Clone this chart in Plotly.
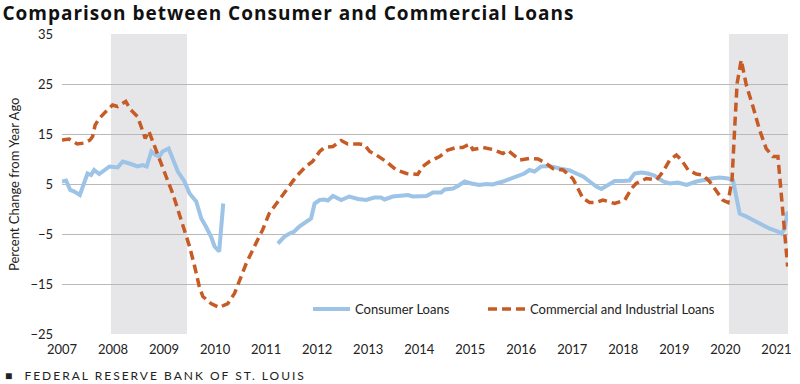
import plotly.graph_objects as go

# ---- data ----
ci_x = [2007.00, 2007.14, 2007.30, 2007.44, 2007.55, 2007.60, 2007.65, 2007.73, 2007.86, 2007.99,
        2008.09, 2008.25, 2008.35, 2008.48, 2008.55, 2008.63, 2008.70, 2008.81, 2008.91, 2009.04,
        2009.17, 2009.24, 2009.37, 2009.50, 2009.60, 2009.69, 2009.76, 2009.92, 2010.08, 2010.25,
        2010.38, 2010.48, 2010.61, 2010.77, 2010.93, 2011.06, 2011.26, 2011.46, 2011.59, 2011.78,
        2011.91, 2012.05, 2012.14, 2012.31, 2012.47, 2012.60, 2012.83, 2012.93, 2013.03, 2013.16,
        2013.35, 2013.55, 2013.75, 2013.97, 2014.07, 2014.20, 2014.40, 2014.56, 2014.73, 2014.85,
        2014.99, 2015.05, 2015.25, 2015.44, 2015.64, 2015.74, 2015.97, 2016.16, 2016.33, 2016.49,
        2016.62, 2016.82, 2017.01, 2017.11, 2017.21, 2017.34, 2017.47, 2017.60, 2017.83, 2018.03,
        2018.16, 2018.25, 2018.45, 2018.65, 2018.78, 2018.91, 2019.04, 2019.14, 2019.27, 2019.43,
        2019.56, 2019.69, 2019.82, 2019.95, 2020.05, 2020.13, 2020.18, 2020.23, 2020.31, 2020.41,
        2020.54, 2020.67, 2020.80, 2020.93, 2021.03, 2021.10, 2021.16, 2021.22]
ci_y = [13.8, 14.0, 13.0, 13.2, 13.8, 14.5, 16.8, 18.1, 19.5, 20.8,
        20.5, 21.5, 19.8, 18.5, 16.5, 14.1, 15.6, 12.8, 9.8, 6.5,
        3.1, 0.8, -3.5, -7.5, -11.5, -15.5, -17.5, -18.9, -19.7, -18.9,
        -16.9, -14.2, -10.9, -7.5, -4.2, -0.9, 1.8, 4.5, 6.5, 8.5,
        9.5, 11.5, 12.3, 12.5, 13.7, 13.0, 13.0, 12.8, 11.5, 10.8,
        9.5, 7.8, 7.1, 6.9, 8.5, 9.5, 10.5, 11.8, 12.3, 12.3,
        13.0, 11.9, 12.3, 11.9, 11.1, 11.7, 9.8, 10.1, 10.0, 9.1,
        8.1, 7.8, 6.1, 4.1, 2.1, 1.3, 1.3, 1.8, 1.1, 1.8,
        4.1, 5.1, 6.1, 5.8, 7.5, 9.8, 10.8, 9.8, 7.8, 7.0,
        6.8, 5.5, 3.5, 1.8, 1.3, 5.8, 15.8, 25.1, 29.8, 24.8,
        20.5, 15.8, 12.1, 10.5, 10.5, 2.5, -4.9, -11.5]

cons_x = [2007.00, 2007.08, 2007.16, 2007.24, 2007.35, 2007.44, 2007.50, 2007.57, 2007.63, 2007.73,
          2007.83, 2007.93, 2008.09, 2008.19, 2008.32, 2008.48, 2008.58, 2008.66, 2008.75, 2008.83,
          2008.91, 2008.97, 2009.09, 2009.17, 2009.27, 2009.40, 2009.50, 2009.63, 2009.73, 2009.82,
          2009.92, 2009.99, 2010.08, 2010.16, 2010.70,
          2011.23, 2011.36, 2011.46, 2011.55, 2011.65, 2011.78, 2011.88, 2011.95, 2012.05, 2012.14,
          2012.21, 2012.31, 2012.47, 2012.63, 2012.80, 2012.96, 2013.12, 2013.25, 2013.32, 2013.48,
          2013.68, 2013.78, 2013.87, 2014.14, 2014.27, 2014.43, 2014.50, 2014.66, 2014.76, 2014.89,
          2015.02, 2015.18, 2015.31, 2015.44, 2015.64, 2015.77, 2015.93, 2016.06, 2016.16, 2016.26,
          2016.39, 2016.55, 2016.75, 2016.95, 2017.08, 2017.21, 2017.34, 2017.47, 2017.57, 2017.70,
          2017.83, 2017.99, 2018.12, 2018.22, 2018.35, 2018.48, 2018.61, 2018.78, 2018.91, 2019.07,
          2019.24, 2019.43, 2019.59, 2019.73, 2019.89, 2020.05, 2020.15, 2020.22, 2020.28, 2020.41,
          2020.54, 2020.67, 2020.86, 2021.03, 2021.10, 2021.16, 2021.22]
cons_y = [5.5, 5.7, 3.8, 3.5, 2.8, 5.1, 7.1, 6.8, 7.8, 7.0,
          7.8, 8.5, 8.3, 9.5, 9.1, 8.5, 8.8, 8.5, 11.5, 10.8,
          10.5, 11.5, 12.1, 9.8, 7.5, 5.5, 3.1, 1.5, -1.9, -3.5,
          -5.5, -7.5, -8.5, 1.1, None,
          -6.9, -5.5, -4.9, -4.5, -3.5, -2.5, -1.9, 1.1, 1.8, 1.9,
          1.7, 2.6, 1.8, 2.5, 2.0, 1.8, 2.3, 2.3, 1.9, 2.5,
          2.6, 2.8, 2.5, 2.6, 3.3, 3.3, 3.9, 4.1, 4.6, 5.5,
          5.1, 4.8, 5.0, 4.9, 5.5, 6.0, 6.5, 7.1, 7.8, 7.5,
          8.5, 8.6, 8.1, 7.7, 7.1, 6.5, 5.5, 4.5, 4.0, 4.8,
          5.6, 5.6, 5.7, 7.1, 7.3, 7.1, 6.7, 5.5, 5.1, 5.3,
          4.8, 5.5, 5.9, 6.1, 6.3, 6.1, 5.7, 1.8, -0.9, -1.5,
          -2.2, -3.0, -3.9, -4.5, -4.9, -3.9, -0.5]

recession_start = [2007.96, 2020.07]
recession_end = [2009.45, 2021.25]

x_range = [2007, 2021.227]
y_range = [-25, 35]
year_ticks = list(range(2007, 2022))
y_ticks = [-25, -15, -5, 5, 15, 25, 35]

BLUE = "#9dc3e6"
ORANGE = "#c75b26"
FONT = "Lato"

fig = go.Figure()
fig.add_trace(go.Scatter(x=cons_x, y=cons_y, mode="lines", name="Consumer Loans",
                         line=dict(color=BLUE, width=4), connectgaps=False, legend="legend"))
fig.add_trace(go.Scatter(x=ci_x, y=ci_y, mode="lines", name="Commercial and Industrial Loans",
                         line=dict(color=ORANGE, width=3.5, dash="9px,5px"), legend="legend2"))

for s, e in zip(recession_start, recession_end):
    fig.add_shape(type="rect", x0=s, x1=e, xref="x", yref="paper", y0=0, y1=1,
                  fillcolor="#e6e6e8", line=dict(width=0), layer="below")

legend_common = dict(orientation="h", xanchor="left", y=0.083, yanchor="middle",
                     bgcolor="rgba(0,0,0,0)", font=dict(size=13, color="#222"), itemwidth=37)

fig.update_layout(
    width=800, height=384,
    margin=dict(l=62, r=12, t=34, b=50),
    paper_bgcolor="white", plot_bgcolor="white",
    font=dict(family=FONT, size=13, color="#222"),
    title=dict(text="<b>Comparison between Consumer and Commercial Loans</b>",
               font=dict(family="Open Sans", size=19, color="#111"),
               x=0.003, xanchor="left", xref="container",
               y=0.965, yanchor="middle", yref="container"),
    xaxis=dict(range=x_range, tickvals=year_ticks, ticktext=[str(y) for y in year_ticks],
               showgrid=False, zeroline=False, showline=False, ticks="", automargin=False,
               ticklabelstandoff=6, tickfont=dict(size=13)),
    xaxis2=dict(range=x_range, overlaying="x", anchor="free", position=(0 - y_range[0]) / (y_range[1] - y_range[0]),
                side="bottom", tickvals=year_ticks, showticklabels=False, ticks="outside", ticklen=7,
                tickwidth=1.3, tickcolor="#111", showline=True, linecolor="#111", linewidth=1.5,
                showgrid=False, zeroline=False, automargin=False),
    yaxis=dict(range=y_range, tickvals=y_ticks, showgrid=True, gridcolor="#b9b9b9", gridwidth=1,
               zeroline=False, showline=False, ticks="", ticklabelstandoff=8, automargin=False,
               tickfont=dict(size=13)),
    legend=dict(x=(308 - 62) / 726, **legend_common),
    legend2=dict(x=(483 - 62) / 726, **legend_common),
    showlegend=True,
)

fig.add_annotation(text="Percent Change from Year Ago", textangle=-90, xref="paper", yref="paper",
                   x=-0.066, y=0.5, xanchor="center", yanchor="middle", showarrow=False,
                   font=dict(size=13, color="#222"))
fig.add_annotation(text="■  FEDERAL RESERVE BANK OF ST. LOUIS", xref="paper", yref="paper",
                   x=(3 - 62) / 726, y=(334 - 375) / 300, xanchor="left", yanchor="middle",
                   showarrow=False, font=dict(size=12, color="#222"))

post = """
document.body.style.margin='0';
document.body.style.overflow='hidden';
document.querySelectorAll('.annotation-text').forEach(function(t){
  if (t.textContent.indexOf('FEDERAL') >= 0) {
    var bb = t.getBBox();
    t.setAttribute('text-anchor', 'start');
    t.setAttribute('x', bb.x);
    t.style.letterSpacing = '2px';
  }
});
document.querySelectorAll('.gtitle').forEach(function(t){
  t.style.letterSpacing = '1px';
});
"""
fig.write_html("out.html", config={"displayModeBar": False}, post_script=post)
